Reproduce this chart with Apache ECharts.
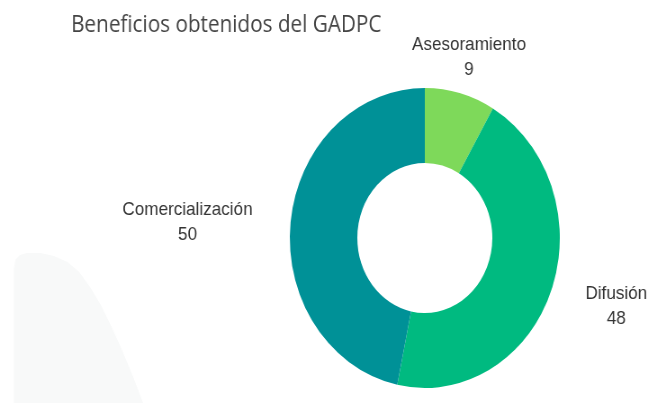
<!DOCTYPE html>
<html>
<head>
<meta charset="utf-8">
<script src="https://cdn.jsdelivr.net/npm/echarts@6/dist/echarts.min.js"></script>
<style>
  html, body { margin: 0; padding: 0; background: #fff; overflow: hidden; }
  #wrap { width: 650px; height: 403px; overflow: hidden; }
  /* the reference is squeezed horizontally, so draw wider and scale down */
  #chart { width: 722px; height: 403px; transform: scaleX(0.9); transform-origin: 0 0; }
</style>
</head>
<body>
<div id="wrap"><div id="chart"></div></div>
<script>
const categories = ["Asesoramiento", "Difusión", "Comercialización"];
const values = [9, 48, 50];
const colors = ["#7ed95a", "#00ba80", "#009197"];

const cx = 472;
const cy = 238;
// distance of each label's centre from the pie centre, plus a small nudge
const labelDist = [188, 214, 265];
const labelNudgeX = [0, 13, 0];
const labelNudgeY = [1, -9, 11];

const total = values.reduce((s, v) => s + v, 0);
const midAngles = [];
let acc = 0;
for (const v of values) {
  midAngles.push(((acc + v / 2) / total) * Math.PI * 2);
  acc += v;
}

const chart = echarts.init(document.getElementById("chart"), null, { renderer: "canvas" });

chart.setOption({
  animation: false,
  title: {
    text: "Beneficios obtenidos del GADPC",
    left: 74,
    top: 9,
    textStyle: { fontFamily: "Open Sans", fontSize: 23, fontWeight: "normal", color: "#444444" }
  },
  graphic: [
    {
      type: "polygon",
      z: -10,
      shape: {
        points: [[15.5, 403], [15.5, 268], [17, 260], [22, 255], [30, 253], [45, 253], [60, 256], [75, 262],
          [88, 272], [100, 287], [112, 305], [124, 327], [136, 351], [148, 377], [159, 403]]
      },
      style: { fill: "#f8f9f9" }
    }
  ],
  series: [
    {
      type: "pie",
      center: [cx, cy],
      radius: [75, 150],
      startAngle: 90,
      clockwise: true,
      data: categories.map((c, i) => ({ name: c, value: values[i], itemStyle: { color: colors[i] } })),
      label: {
        show: true,
        position: "outside",
        formatter: "{b}\n{c}",
        fontFamily: "Liberation Sans",
        fontSize: 19,
        lineHeight: 25,
        color: "#333333",
        align: "center",
        overflow: "none",
        width: 200
      },
      labelLine: { show: false },
      labelLayout(params) {
        const i = params.dataIndex;
        const a = midAngles[i];
        return {
          x: cx + Math.sin(a) * labelDist[i] + labelNudgeX[i],
          y: cy - Math.cos(a) * labelDist[i] + labelNudgeY[i],
          align: "center",
          verticalAlign: "middle"
        };
      }
    }
  ]
});
</script>
</body>
</html>
